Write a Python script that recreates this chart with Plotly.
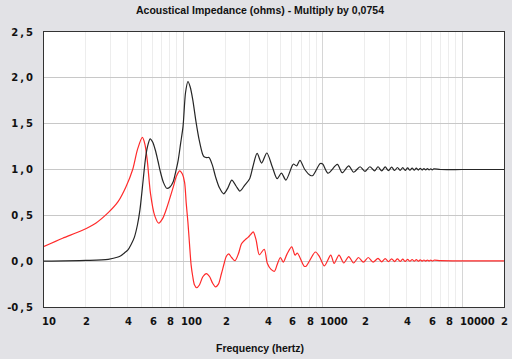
import math
import plotly.graph_objects as go

# ---------------- data ----------------
real_freq = [10, 20, 28.9, 34.0, 35.6, 37.8, 39.9, 42.1, 44.5, 46.9, 48.8, 50.8, 53.3, 55.1,
             57.8, 60.2, 63.0, 65.8, 68.3, 71.9, 76.0, 80.2, 84.7, 88.3, 91.8, 95.5, 99.5,
             103.7, 107.9, 112, 116.9, 123.3, 130.0, 137.3, 140.9, 147.2, 152.8, 161.4, 170.3,
             181.6, 194.6, 208.9, 222.7, 238.8, 254.6, 275.9, 299.1, 315.5, 338.4, 364.4,
             397.3, 434.6, 471, 505.7, 544.5, 599.7, 616.6, 650.3, 686.7, 744, 817.8, 851,
             960.5, 1000, 1091.6, 1274, 1380, 1538, 1667, 1855, 2010, 2180, 2361, 2494,
             2652, 2810, 2967, 3125, 3282, 3440, 3597, 3755, 3912, 4070, 4227, 4385, 4542,
             4700, 4857, 5015, 5172, 5330, 5487, 5645, 5802, 5960, 6117, 6275, 7000, 10000,
             15000, 20000]
real_vals = [0.0, 0.008, 0.02, 0.045, 0.06, 0.09, 0.12, 0.18, 0.26, 0.40, 0.56, 0.80, 1.10, 1.24,
             1.335, 1.30, 1.21, 1.09, 0.98, 0.86, 0.795, 0.81, 0.87, 0.98, 1.1, 1.28, 1.47,
             1.84, 1.96, 1.9, 1.76, 1.52, 1.32, 1.17, 1.14, 1.13, 1.13, 1.05, 0.92,
             0.8, 0.735, 0.8, 0.885, 0.82, 0.765, 0.83, 0.9, 1.03, 1.175, 1.07,
             1.18, 1.03, 0.9, 0.96, 0.885, 1.03, 1.06, 1.04, 1.10, 1.0, 0.935, 0.935,
             1.065, 1.06, 0.96, 1.055, 0.965, 1.04, 0.97, 1.03, 0.98, 1.03, 0.985, 1.03,
             0.985, 1.028, 0.987, 1.025, 0.989, 1.022, 0.99, 1.02, 0.991, 1.018, 0.992, 1.016, 0.993,
             1.014, 0.994, 1.012, 0.995, 1.01, 0.996, 1.009, 0.996, 1.008, 0.997, 1.007, 1.0, 1.0,
             1.0, 1.0]

imag_freq = [10, 13.6, 18.7, 23.5, 28.9, 34.0, 38.7, 43.3, 46.9, 50.8, 52.9, 55.1,
             58.1, 62.2, 66.5, 71.3, 76.0, 84.7, 89.3, 94.2, 98.4, 102.1, 104.9, 107.9, 110.7,
             113.7, 116.9, 120.3, 124.7, 130.4, 138, 146.5, 154.5, 162.2, 170.3, 178.6, 187.4,
             196.7, 203.1, 211.5, 222, 234.9, 248.4, 261.5, 275.9, 291, 303.8, 317.3, 333,
             351, 380.4, 401, 426, 450.7, 473, 497.6, 521, 555.6, 599.7, 633.8, 658, 736,
             760, 886.5, 948, 1028, 1143, 1208, 1309, 1418, 1538, 1667, 1807, 1959, 2123,
             2300, 2494,
             2652, 2810, 2967, 3125, 3282, 3440, 3597, 3755, 3912, 4070, 4227, 4385, 4542,
             4700, 4857, 5015, 5172, 5330, 5487, 5645, 5802, 5960, 6117, 6275, 7000, 10000,
             15000, 20000]
imag_vals = [0.16, 0.25, 0.335, 0.415, 0.53, 0.65, 0.81, 1.0, 1.22, 1.35, 1.28, 1.1,
             0.74, 0.5, 0.415, 0.47, 0.58, 0.81, 0.93, 0.985, 0.95, 0.86, 0.63, 0.42, 0.19,
             -0.04, -0.17, -0.26, -0.29, -0.26, -0.17, -0.135, -0.17, -0.24, -0.28, -0.25, -0.14,
             -0.02, 0.05, 0.08, 0.04, 0.005, 0.08, 0.19, 0.23, 0.26, 0.29, 0.32, 0.23,
             0.07, 0.13, -0.025, -0.09, -0.11, -0.03, 0.04, -0.01, 0.08, 0.155, 0.065, 0.088, -0.055,
             -0.055, 0.10, 0.05, -0.052, 0.065, -0.025, 0.065, -0.02, 0.05, -0.02, 0.04, -0.01, 0.04,
             -0.01, 0.03,
             -0.008, 0.028, -0.006, 0.026, -0.004, 0.024, -0.003, 0.022, -0.002, 0.02, -0.001, 0.018, 0.0,
             0.016, 0.0, 0.015, 0.001, 0.013, 0.001, 0.012, 0.002, 0.011, 0.002, 0.01, 0.005, 0.004,
             0.003, 0.003]

x_label_vals = [10, 20, 40, 60, 80, 100, 200, 400, 600, 800, 1000, 2000, 4000, 6000, 8000,
                10000, 20000]
x_label_text = ["10", "2", "4", "6", "8", "100", "2", "4", "6", "8", "1000", "2", "4", "6", "8",
                "10000", "2"]
y_tick_vals = [-0.5, 0.0, 0.5, 1.0, 1.5, 2.0, 2.5]
y_tick_text = ["-0\u2009,\u20095", "0\u2009,\u20090", "0\u2009,\u20095", "1\u2009,\u20090",
               "1\u2009,\u20095", "2\u2009,\u20090", "2\u2009,\u20095"]

title_text = "Acoustical Impedance (ohms) - Multiply by 0,0754"
xtitle_text = "Frequency (hertz)"

# ---------------- figure ----------------
fig = go.Figure()
fig.add_trace(go.Scatter(x=imag_freq, y=imag_vals, mode="lines",
                         line=dict(color="#FF2a2a", width=1.2, shape="spline", smoothing=0.8),
                         hoverinfo="skip"))
fig.add_trace(go.Scatter(x=real_freq, y=real_vals, mode="lines",
                         line=dict(color="#262626", width=1.2, shape="spline", smoothing=0.8),
                         hoverinfo="skip"))

minor_vals = [m * 10 ** k for k in range(1, 5) for m in range(2, 10) if m * 10 ** k <= 20000]

tick_font = dict(family="DejaVu Sans", size=10, color="#111111")
ann = []
for v, t in zip(x_label_vals, x_label_text):
    ann.append(dict(x=math.log10(v), y=0, xref="x", yref="paper",
                    text="<b>%s</b>" % t, showarrow=False, xanchor="left", yanchor="middle",
                    xshift=-4.5, yshift=-14, font=tick_font))
title_font = dict(family="Liberation Sans", size=10.5, color="#111111")
ann.append(dict(x=0.469, y=1, xref="paper", yref="paper", text="<b>%s</b>" % title_text,
                showarrow=False, xanchor="center", yanchor="middle", yshift=22.5, font=title_font))
ann.append(dict(x=0.470, y=0, xref="paper", yref="paper", text="<b>%s</b>" % xtitle_text,
                showarrow=False, xanchor="center", yanchor="middle", yshift=-41, font=title_font))

fig.update_layout(
    width=512, height=359,
    margin=dict(l=34, r=7, t=32, b=52),
    paper_bgcolor="#E2E2E6", plot_bgcolor="#FFFFFF",
    showlegend=False,
    annotations=ann,
    xaxis=dict(type="log", range=[1, 4.3012], tickvals=[10, 100, 1000, 10000],
               showticklabels=False, ticks="", showgrid=True, gridcolor="#D6D6D6", gridwidth=1,
               minor=dict(tickvals=minor_vals, showgrid=True, gridcolor="#EDEDED", gridwidth=1,
                          ticks=""),
               showline=True, mirror=True, linecolor="#333333", linewidth=1, zeroline=False,
               fixedrange=True),
    yaxis=dict(range=[-0.5, 2.5], tickvals=y_tick_vals, ticktext=["<b>%s</b>" % t for t in y_tick_text],
               ticks="", tickfont=tick_font, showgrid=True, gridcolor="#C8C8C8", gridwidth=1,
               showline=True, mirror=True, linecolor="#333333", linewidth=1, zeroline=False,
               ticklabelstandoff=8, fixedrange=True),
)

fig.write_html("out.html", config={"displayModeBar": False, "staticPlot": True},
               post_script="document.body.style.margin='0px';document.body.style.padding='0px';"
                           "document.body.style.background='#E2E2E6';")
